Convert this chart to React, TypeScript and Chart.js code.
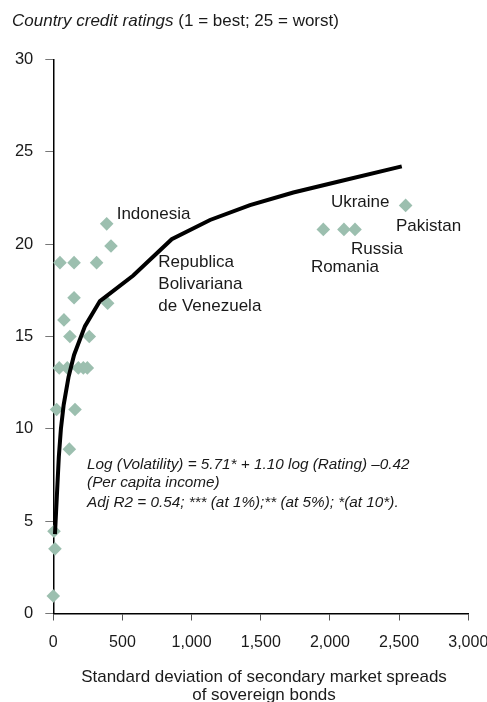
import React, { useEffect, useRef } from "react";
import { Chart, registerables } from "chart.js";

Chart.register(...registerables);

// Scatter: country observations (spread std. dev., credit rating)
const spreadStdDev = [48, 150, 313, 386, 417, 150, 77, 120, 260, 393, 43, 101, 181, 217, 246, 24, 157, 116, 0, 12, 5, 1952, 2101, 2181, 2547];
const creditRating = [19, 19, 19, 21.1, 19.9, 17.1, 15.9, 15, 15, 16.8, 13.3, 13.3, 13.3, 13.3, 13.3, 11.05, 11.05, 8.9, 0.95, 3.5, 4.45, 20.8, 20.8, 20.8, 22.1];

// Fitted curve
const fitX = [12, 20, 30, 40, 55, 75, 110, 150, 229, 337, 578, 856, 1133, 1422, 1735, 2049, 2519];
const fitY = [4.3, 5.5, 7, 8.5, 10, 11.3, 12.8, 14, 15.56, 16.92, 18.3, 20.27, 21.31, 22.11, 22.8, 23.37, 24.21];

const xTicks = [0, 500, 1000, 1500, 2000, 2500, 3000];
const yTicks = [0, 5, 10, 15, 20, 25, 30];

const countryLabels = ["Indonesia", "Ukraine", "Pakistan", "Russia", "Romania", "Republica", "Bolivariana", "de Venezuela"];
const labelX = [458, 2007, 2477, 2152, 1862, 759, 759, 759];
const labelY = [21.6, 22.27, 20.99, 19.72, 18.75, 19.02, 17.83, 16.65];

const equationLines = [
  "Log (Volatility) = 5.71* + 1.10 log (Rating) \u20130.42",
  "(Per capita income)",
  "Adj R2 = 0.54; *** (at 1%);** (at 5%); *(at 10*).",
];
const equationX = 244;
const equationY = [8.06, 7.08, 6.02];

const FONT = "'Liberation Sans', Arial, Helvetica, sans-serif";

export default function App() {
  const ref = useRef<HTMLCanvasElement>(null);
  useEffect(() => {
    const canvas = ref.current!;
    const textPlugin = {
      id: "texts",
      afterDraw(chart: any) {
        const ctx = chart.ctx;
        const xs = chart.scales.x;
        const ys = chart.scales.y;
        ctx.save();
        ctx.fillStyle = "#1a1a1a";
        ctx.textBaseline = "middle";
        ctx.textAlign = "left";
        // title
        ctx.font = `italic 17px ${FONT}`;
        const t1 = "Country credit ratings";
        ctx.fillText(t1, 12, 21);
        const w1 = ctx.measureText(t1).width;
        ctx.font = `17px ${FONT}`;
        ctx.fillText(" (1 = best; 25 = worst)", 12 + w1, 21);
        // country labels
        ctx.font = `17px ${FONT}`;
        countryLabels.forEach((t, i) => {
          ctx.fillText(t, xs.getPixelForValue(labelX[i]), ys.getPixelForValue(labelY[i]));
        });
        // equation
        ctx.font = `italic 15.3px ${FONT}`;
        equationLines.forEach((t, i) => {
          ctx.fillText(t, xs.getPixelForValue(equationX), ys.getPixelForValue(equationY[i]));
        });
        // x axis title
        ctx.font = `17px ${FONT}`;
        ctx.textAlign = "center";
        ctx.fillText("Standard deviation of secondary market spreads", 264, 677);
        ctx.fillText("of sovereign bonds", 264, 695);
        ctx.restore();
      },
    };
    const chart = new Chart(canvas, {
      type: "scatter",
      data: {
        datasets: [
          {
            type: "line",
            data: fitX.map((x, i) => ({ x, y: fitY[i] })),
            borderColor: "#000",
            borderWidth: 4,
            pointRadius: 0,
            tension: 0,
            fill: false,
            clip: false,
            order: 1,
          } as any,
          {
            data: spreadStdDev.map((x, i) => ({ x, y: creditRating[i] })),
            pointStyle: "rectRot",
            pointRadius: 6.8,
            backgroundColor: "#9cbfaf",
            borderColor: "#9cbfaf",
            borderWidth: 0,
            clip: false,
            order: 2,
          },
        ],
      },
      plugins: [textPlugin],
      options: {
        animation: false,
        responsive: false,
        devicePixelRatio: 1,
        layout: { padding: { left: 0, right: 18.7, top: 59.5, bottom: 0 } },
        plugins: { legend: { display: false }, tooltip: { enabled: false }, title: { display: false } },
        scales: {
          x: {
            type: "linear",
            min: 0,
            max: 3000,
            afterBuildTicks: (s: any) => { s.ticks = xTicks.map((v) => ({ value: v })); },
            afterFit: (s: any) => { s.height = 88.5; s.paddingRight = 0; s.paddingLeft = 0; },
            ticks: {
              color: "#1a1a1a",
              font: { family: FONT, size: 16 },
              padding: 12,
              maxRotation: 0,
              callback: (v: any) => Number(v).toLocaleString("en-US"),
            },
            grid: { drawOnChartArea: false, drawTicks: true, tickLength: 7, color: "#555", lineWidth: 1 },
            border: { display: true, color: "#000", width: 1.5 },
          },
          y: {
            type: "linear",
            min: 0,
            max: 30,
            afterBuildTicks: (s: any) => { s.ticks = yTicks.map((v) => ({ value: v })); },
            afterFit: (s: any) => { s.width = 53.3; s.paddingTop = 0; s.paddingBottom = 0; },
            ticks: {
              color: "#1a1a1a",
              font: { family: FONT, size: 16.5 },
              padding: 12,
            },
            grid: { drawOnChartArea: false, drawTicks: true, tickLength: 8, color: "#777", lineWidth: 1 },
            border: { display: true, color: "#000", width: 1.5 },
          },
        },
      },
    } as any);
    return () => chart.destroy();
  }, []);
  return (
    <div style={{ position: "fixed", left: 0, top: 0, width: 487, height: 702, background: "#fff" }}>
      <canvas ref={ref} width={487} height={702} style={{ display: "block", width: 487, height: 702 }} />
    </div>
  );
}
